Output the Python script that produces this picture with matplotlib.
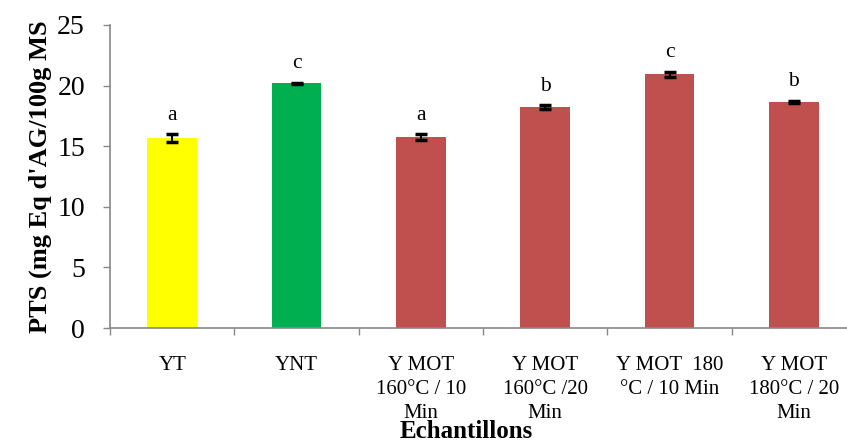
import matplotlib
matplotlib.use("Agg")
import matplotlib.pyplot as plt
import numpy as np

categories = ["YT", "YNT", "Y MOT\n160°C / 10\nMin", "Y MOT\n160°C /20\nMin",
              "Y MOT  180\n°C / 10 Min", "Y MOT\n180°C / 20\nMin"]
values = [15.68, 20.2, 15.76, 18.23, 20.95, 18.65]
errors = [0.3, 0.05, 0.22, 0.15, 0.2, 0.12]
letters = ["a", "c", "a", "b", "c", "b"]
colors = ["#FFFF00", "#00B050", "#C0504D", "#C0504D", "#C0504D", "#C0504D"]

plt.rcParams["font.family"] = ["Liberation Serif", "DejaVu Serif"]

W, H = 847, 443
fig = plt.figure(figsize=(W / 100, H / 100), dpi=100)
ax = fig.add_axes([110 / W, 1 - 328 / H, 746 / W, (328 - 25) / H])

x = np.arange(len(categories))
ax.bar(x, values, width=0.4, color=colors, zorder=2)
ax.errorbar(x, values, yerr=errors, fmt="none", ecolor="black",
            elinewidth=1.5, capsize=4, capthick=2.5, zorder=3)

for xi, v, e, t in zip(x, values, errors, letters):
    ax.annotate(t, (xi, v + e), xytext=(0, 7), textcoords="offset points",
                ha="center", va="bottom", fontsize=15.5)

ax.set_xlim(-0.5, len(categories) - 0.5)
ax.set_ylim(0, 25)
ax.set_yticks(np.arange(0, 26, 5))
ax.tick_params(axis="y", labelsize=20, length=5, width=1, color="#888888", pad=13)

ax.set_xticks(x)
ax.set_xticklabels(categories, fontsize=15, linespacing=1.36)
ax.tick_params(axis="x", which="major", length=0, pad=20)
ax.set_xticks(np.arange(-0.5, len(categories) + 0.5, 1), minor=True)
ax.tick_params(axis="x", which="minor", length=5, width=1, color="#888888")

for side in ["top", "right"]:
    ax.spines[side].set_visible(False)
for side in ["left", "bottom"]:
    ax.spines[side].set_color("#888888")
    ax.spines[side].set_linewidth(1.2)

ax.set_ylabel("PTS (mg Eq d'AG/100g MS", fontsize=19, fontweight="bold", labelpad=4)
fig.text(466 / W, 0.5 / H, "Echantillons", fontsize=18, fontweight="bold",
         ha="center", va="bottom")

fig.savefig("out.png", dpi=100)
